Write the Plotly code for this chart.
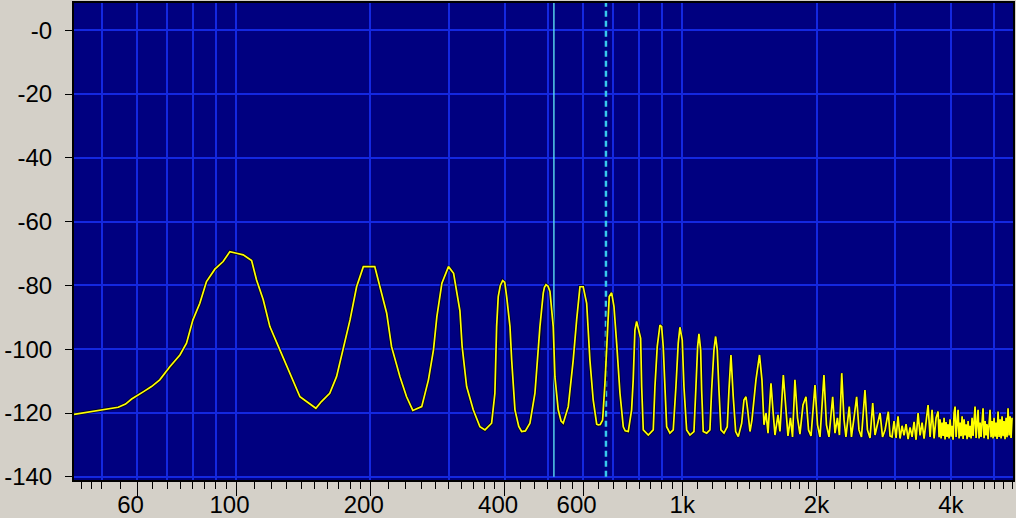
import numpy as np
import plotly.graph_objects as go

# ---------------- data ----------------
freq_hz = [
    43.3, 47.0, 50.3, 54.4, 56.5, 58.3, 62.0, 64.6, 67.4, 71.0, 74.8, 77.4, 80.0, 82.9, 85.8,
    89.6, 93.5, 96.8, 100.2, 103.7, 108.3, 111.1, 115.0, 119.0, 125.3, 131.9, 139.0, 143.8, 150.9,
    155.3, 162.1, 167.9, 173.8, 180.0, 186.2, 192.8, 204.5, 209.7, 217.5, 223.0, 232.9, 241.0, 248.9,
    260.6, 269.8, 276.9, 281.8, 289.2, 299.2, 307.2, 312.5, 317.4, 321.0, 328.6, 340.0, 351.9, 361.2,
    373.8, 380.2, 383.6, 386.8, 391.0, 395.7, 400.0, 404.0, 411.0, 414.6, 421.7, 430.0, 436.5, 445.0,
    455.6, 467.5, 479.7, 488.0, 491.0, 494.9, 500.0, 505.2, 513.8, 518.3, 527.2, 535.0, 541.0, 555.2,
    569.6, 579.8, 589.8, 599.8, 610.6, 620.9, 631.5, 643.0, 648.1, 655.0, 663.0, 671.0, 676.9, 686.0,
    694.6, 703.0, 712.8, 725.1, 737.6, 745.0, 756.8,
    770, 776.4, 783.2, 790.2, 799.6, 806.7, 811, 817.8, 839.2, 861, 868.6, 878.9, 891.3, 899.1, 906.6,
    914.6, 922.6, 938.4, 954.6, 968, 979.5, 988.1, 1000, 1008.8, 1023, 1040.6, 1062.3, 1073.3, 1082.7,
    1090, 1099.7, 1105.3, 1114.5, 1134.2, 1153.6, 1163.8, 1177.8, 1188, 1198, 1208.6, 1221, 1240.4,
    1261.6, 1272.7, 1286, 1301.2, 1317.5, 1335.5, 1359, 1375.2, 1389.5, 1401.7, 1418.6,
    1433, 1463, 1490, 1509, 1525, 1541, 1557, 1581, 1597, 1614, 1639, 1656, 1685, 1708, 1726, 1748,
    1767, 1789, 1813, 1836, 1865, 1894, 1919, 1944, 1964, 1984, 2010, 2036, 2058, 2078, 2105, 2133,
    2155, 2174, 2200, 2228, 2251, 2278, 2305, 2328, 2368, 2395, 2427, 2460, 2490, 2522, 2568, 2601,
    2636, 2673, 2705, 2740, 2776, 2812, 2849, 2897, 2923,
]
level_db = [
    -120.4, -119.6, -118.8, -118.2, -117.2, -115.6, -113.3, -111.7, -109.6, -105.5, -101.8, -98.1,
    -90.8, -85.6, -78.8, -74.9, -72.5, -69.4, -69.9, -70.4, -72.2, -78.3, -84.5, -92.9, -100.2, -107.5,
    -114.9, -116.4, -118.5,
    -116.4, -113.8, -108.6, -100.2, -90.8, -80.4, -74.1, -74.1, -80.4, -88.7, -99.2, -108.6, -114.9,
    -119.2, -118.0, -109.6, -100.2, -89.8, -79.3, -74.1, -76.2, -82.4, -88.0, -99.0, -111.7, -119.0,
    -124.3, -125.3, -123.2, -113.8, -92.9, -83.5, -80.0, -78.5, -79.0, -83.5, -92.9, -103.4, -119.0,
    -124.2, -125.8, -125.6,
    -123.2, -113.8, -92.9, -82.4, -80.6, -79.8, -80.2, -81.9, -92.9, -108.6, -119.0, -122.5, -123.2,
    -118.0, -103.4, -90.8, -80.4, -80.4, -85.6, -103.4, -115.9, -123.5, -123.7, -123.6, -122.2, -110.7,
    -98.1, -83.5, -82.3, -86.6, -98.1, -113.8, -124.3, -125.6, -125.8,
    -119.0, -109.6, -94.0, -91.3, -94.0, -96.6, -111.7, -125.3, -126.9, -125.3, -111.7, -99.2, -92.4,
    -92.9, -99.2, -111.7, -124.3, -126.3, -125.3, -111.7, -98.1, -93.1, -97.1, -111.7, -125.3, -126.9,
    -125.8, -111.7, -99.2, -95.2, -100.2, -112.8, -125.8, -126.3, -125.3, -112.8, -100.2, -96.0, -100.2,
    -112.8, -125.3, -126.3, -124.3, -112.8, -101.8, -114.9, -125.8, -127.4, -123.2, -115.9, -114.9,
    -119.0, -125.8,
    -122.2, -109.6, -101.8, -109.6, -123.7, -120.0, -126.3, -110.7, -119.0, -126.9, -120.6, -125.8,
    -108.1, -120.6, -127.2, -121.5, -127.5, -109.6, -121.5, -126.6, -117.5, -114.9, -125.3, -127.2,
    -119.0, -111.2, -123.7, -127.5, -117.5, -108.1, -123.7, -127.5, -120.6, -114.9, -126.3, -121.5,
    -126.9, -107.5, -122.2, -127.5, -118.0, -127.5, -121.5, -114.9, -125.3, -127.5, -112.8, -125.3,
    -127.8, -116.9, -126.9, -123.7, -120.0, -127.5, -125.3, -119.6, -127.2,
]

# noise floor above ~2.9 kHz (read as densely as the picture allows)
noise_hz = [
    2953, 2984, 3015, 3046, 3078, 3110, 3142, 3175, 3208, 3241, 3275, 3309, 3343, 3378, 3413, 3449,
    3484, 3521, 3557, 3594, 3631, 3669, 3707, 3745,
    3765, 3784, 3804, 3824, 3844, 3863, 3883, 3903, 3923, 3944, 3964, 3985, 4006, 4026, 4047, 4068,
    4089, 4110, 4131, 4153, 4175, 4196, 4218, 4240, 4262, 4284, 4306, 4328, 4350, 4373, 4396, 4418,
    4441, 4464, 4487, 4510, 4533, 4557, 4581, 4604, 4628, 4652, 4676, 4700, 4724, 4749, 4774, 4798,
    4823, 4848, 4873, 4898, 4923, 4949, 4975, 5000, 5026, 5052, 5078, 5105, 5131, 5158, 5185, 5211,
    5238, 5265, 5292, 5320, 5347, 5375, 5403, 5431, 5459, 5487,
]
noise_db = [
    -127.5, -122.5, -127.8, -121.0, -128.0, -124.0, -127.0, -123.5, -128.2, -124.5, -127.5, -122.8,
    -128.4, -120.0, -127.0, -123.0, -128.0, -122.0, -117.5, -127.5, -119.0, -128.0, -121.5, -119.5,
    -127.6, -122.0, -128.0, -123.0, -127.2, -121.5, -128.3, -122.8, -127.5, -123.5, -128.0, -122.0,
    -127.4, -124.0, -128.4, -120.0, -118.0, -127.5, -122.5, -119.0, -128.0, -123.0, -127.3, -121.0,
    -128.1, -122.0, -127.0, -123.5, -128.2, -122.5, -127.6, -124.0, -128.0, -121.5, -127.2, -122.0,
    -118.0, -127.8, -122.0, -119.0, -128.0, -123.0, -127.5, -121.0, -118.5, -127.9, -122.5, -127.0,
    -123.5, -128.2, -122.0, -119.0, -127.6, -122.5, -128.0, -121.5, -127.4, -123.0, -128.1, -119.5,
    -127.5, -122.0, -128.0, -121.0, -127.3, -122.5, -128.2, -121.5, -127.6, -118.5, -127.0, -121.0,
    -127.8, -121.5,
]

cursor_solid_hz = 515.6
cursor_dashed_hz = 674.5

y_tick_vals = [0, -20, -40, -60, -80, -100, -120, -140]
y_tick_text = ["-0", "-20", "-40", "-60", "-80", "-100", "-120", "-140"]

x_label_vals = [60, 100, 200, 400, 600, 1000, 2000, 4000]
x_label_text = ["60", "100", "200", "400", "600", "1k", "2k", "4k"]

x_grid_hz = [50, 60, 70, 80, 90, 100, 200, 300, 400, 500, 600, 700, 800, 900,
             1000, 2000, 3000, 4000, 5000]
x_minor_hz = [45, 47.5, 55, 65, 75, 85, 95,
              110, 120, 130, 140, 150, 160, 170, 180, 190,
              220, 240, 260, 280, 320, 340, 360, 380,
              433, 467, 533, 567,
              650, 750, 850, 950,
              1083, 1167, 1250, 1333, 1417, 1500, 1583, 1667, 1750, 1833, 1917,
              2200, 2400, 2600, 2800, 3200, 3400, 3600, 3800,
              4250, 4500, 4750, 5250, 5500]

x_range_hz = [43.3, 5514]
y_range_db = [-141.0, 8.56]

# ---------------- styling ----------------
BG = "#D4D0C8"
PLOT_BG = "#000080"
GRID = "#1428E0"
FONT = dict(family="Liberation Sans, Arial, sans-serif", size=24, color="black")

all_hz = list(freq_hz) + list(noise_hz)
all_db = list(level_db) + list(noise_db)

fig = go.Figure()

# cursors
fig.add_trace(go.Scatter(x=[cursor_solid_hz, cursor_solid_hz], y=[-140, y_range_db[1]],
                         mode="lines", line=dict(color="#5ADCF0", width=1.4),
                         hoverinfo="skip", showlegend=False))
fig.add_trace(go.Scatter(x=[cursor_dashed_hz, cursor_dashed_hz], y=[-140, y_range_db[1]],
                         mode="lines", line=dict(color="#38C8EC", width=2.5, dash="6px,4px"),
                         hoverinfo="skip", showlegend=False))

# dark outline + yellow spectrum
fig.add_trace(go.Scatter(x=all_hz, y=all_db, mode="lines",
                         line=dict(color="rgba(0,0,20,0.75)", width=3.6),
                         hoverinfo="skip", showlegend=False))
fig.add_trace(go.Scatter(x=all_hz, y=all_db, mode="lines",
                         line=dict(color="#FFFF00", width=1.7),
                         showlegend=False))

# helper traces carrying the overlay axes (long ticks / tick labels)
fig.add_trace(go.Scatter(x=x_label_vals, y=[None] * len(x_label_vals), xaxis="x2",
                         mode="lines", showlegend=False, hoverinfo="skip"))
fig.add_trace(go.Scatter(x=x_label_vals, y=[None] * len(x_label_vals), xaxis="x3",
                         mode="lines", showlegend=False, hoverinfo="skip"))

lr = [np.log10(x_range_hz[0]), np.log10(x_range_hz[1])]
nb = "\u00a0\u00a0"
x_label_disp = [t + nb if not t.endswith("k") else t for t in x_label_text]

fig.update_layout(
    width=1016, height=518,
    margin=dict(l=74, r=3, t=3, b=38, autoexpand=False),
    paper_bgcolor=BG, plot_bgcolor=PLOT_BG,
    showlegend=False,
    font=FONT,
    xaxis=dict(
        type="log", range=lr, automargin=False,
        tickmode="array", tickvals=x_grid_hz, showticklabels=False,
        ticks="outside", ticklen=7, tickwidth=1, tickcolor="black",
        showgrid=True, gridcolor=GRID, gridwidth=2,
        minor=dict(tickmode="array", tickvals=x_minor_hz, ticks="outside",
                   ticklen=7, tickwidth=1, tickcolor="black", showgrid=False),
        showline=True, linecolor="black", linewidth=2, mirror=True,
        zeroline=False,
    ),
    xaxis2=dict(
        type="log", range=lr, overlaying="x", anchor="y", side="bottom", automargin=False,
        tickmode="array", tickvals=x_label_vals, showticklabels=False,
        ticks="outside", ticklen=15, tickwidth=1, tickcolor="black",
        showgrid=False, showline=False, zeroline=False,
    ),
    xaxis3=dict(
        type="log", range=lr, overlaying="x", anchor="y", side="bottom", automargin=False,
        tickmode="array", tickvals=x_label_vals, ticktext=x_label_disp,
        ticks="", tickfont=FONT, ticklabelstandoff=8,
        showgrid=False, showline=False, zeroline=False,
    ),
    yaxis=dict(
        range=y_range_db, automargin=False,
        tickmode="array", tickvals=y_tick_vals, ticktext=y_tick_text,
        ticks="outside", ticklen=7, tickwidth=1, tickcolor="black",
        tickfont=FONT, ticklabelstandoff=8,
        showgrid=True, gridcolor=GRID, gridwidth=2,
        showline=True, linecolor="black", linewidth=2, mirror=True,
        zeroline=False,
    ),
)

fig.write_html(
    "out.html",
    config={"displayModeBar": False},
    post_script="document.body.style.margin='0';document.body.style.overflow='hidden';",
)
